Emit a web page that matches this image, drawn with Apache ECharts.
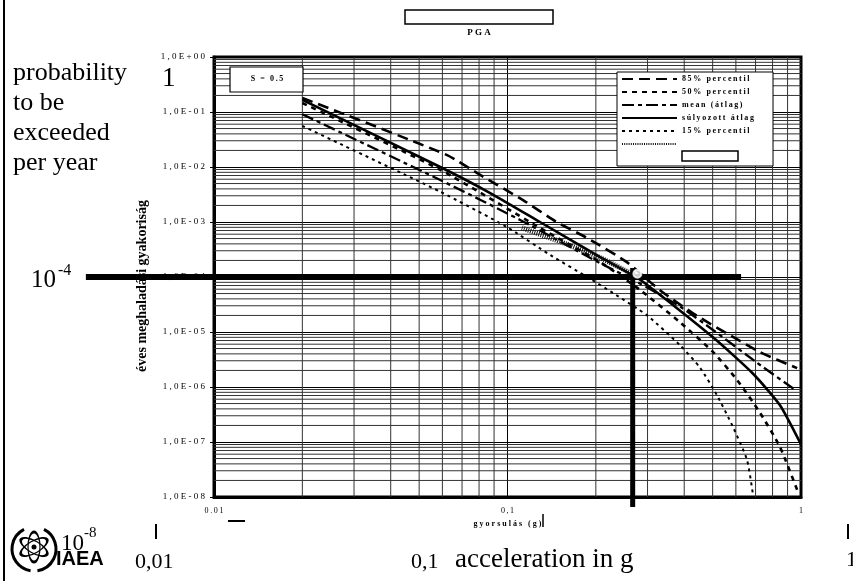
<!DOCTYPE html>
<html>
<head>
<meta charset="utf-8">
<script src="https://cdn.jsdelivr.net/npm/echarts@6/dist/echarts.min.js"></script>
<style>
  html, body { margin: 0; padding: 0; background: #fff; }
  #chart { width: 853px; height: 581px; }
</style>
</head>
<body>
<div id="chart"></div>
<script>
// görbék: gyorsulás (g) és éves meghaladási valószínűség
var p85_g = [0.02, 0.062, 0.081, 0.113, 0.147, 0.187, 0.255, 0.33, 0.44, 0.72, 0.97];
var p85_p = [0.18, 0.0166, 0.0071, 0.0025, 0.001, 5.1e-4, 1.86e-4, 5.8e-5, 2.0e-5, 4.4e-6, 2.2e-6];

var p50_g = [0.02, 0.059, 0.129, 0.207, 0.283, 0.387, 0.50, 0.605, 0.725, 0.848, 0.97];
var p50_p = [0.146, 0.0089, 7.8e-4, 1.86e-4, 5.8e-5, 1.5e-5, 4.4e-6, 1.35e-6, 3.4e-7, 8.1e-8, 1.35e-8];

var mean_g = [0.02, 0.059, 0.110, 0.207, 0.268, 0.313, 0.393, 0.50, 0.709, 0.954];
var mean_p = [0.091, 0.0058, 0.0011, 1.78e-4, 8.9e-5, 5.6e-5, 2.75e-5, 1.1e-5, 2.75e-6, 8.9e-7];

var wmean_g = [0.02, 0.059, 0.087, 0.129, 0.207, 0.283, 0.50, 0.684, 0.847, 1.0];
var wmean_p = [0.166, 0.01, 0.0034, 0.001, 2.29e-4, 8.9e-5, 8.1e-6, 1.78e-6, 4.7e-7, 9e-8];

var p15_g = [0.02, 0.059, 0.0995, 0.14, 0.187, 0.229, 0.299, 0.387, 0.453, 0.517, 0.587, 0.655, 0.686];
var p15_p = [0.0556, 0.00355, 8.1e-4, 2.5e-4, 1.0e-4, 5.1e-5, 2.0e-5, 5.75e-6, 2.24e-6, 7.1e-7, 1.86e-7, 4.7e-8, 1.1e-8];

var hatch_g = [0.112, 0.151, 0.207, 0.268];
var hatch_p = [7.8e-4, 4.4e-4, 2.24e-4, 1.1e-4];

// 10^-4 és 0,27 g jelölő vonalak: [g1, p1, g2, p2]
var refLines = [
  [0.00366, 1e-4, 0.625, 1e-4],
  [0.267, 1.45e-4, 0.267, 6.6e-9]
];
var refWidths = [6, 5];

var yTickLabels = ['1,0E+00', '1,0E-01', '1,0E-02', '1,0E-03', '1,0E-04', '1,0E-05', '1,0E-06', '1,0E-07', '1,0E-08'];
var xTickLabels = ['0.01', '0,1', '1'];

var names = ['85% percentil', '50% percentil', 'mean (átlag)', 'súlyozott átlag', '15% percentil', ' '];

// ritkított betűk, mint az eredetin
function spaced(s, sp) { return s.split('').join(sp || '\u2009'); }
function pairs(g, p) { return g.map(function (v, i) { return [v, p[i]]; }); }

// logaritmikus segédrács
var minorY = [], minorX = [];
for (var k = 1; k <= 8; k++) {
  for (var m = 2; m <= 9; m++) minorY.push([0.01, m * Math.pow(10, -k)]);
}
for (var k2 = -2; k2 <= -1; k2++) {
  for (var m2 = 2; m2 <= 9; m2++) minorX.push([m2 * Math.pow(10, k2), 1e-8]);
}

var serif = 'Liberation Serif, Times New Roman, serif';

var chart = echarts.init(document.getElementById('chart'));

function curve(name, g, p, lineStyle) {
  return {
    name: name,
    type: 'line',
    data: pairs(g, p),
    symbol: 'none',
    smooth: 0.2,
    z: 4,
    itemStyle: { color: '#000' },
    lineStyle: Object.assign({ color: '#000' }, lineStyle)
  };
}

// pixel a tengely sarkaiból (a tartományon kívül is)
function toPx(api, g, p) {
  var a = api.coord([0.01, 1]);
  var b = api.coord([1, 1e-8]);
  return [
    a[0] + (Math.log10(g) + 2) / 2 * (b[0] - a[0]),
    a[1] + (-Math.log10(p)) / 8 * (b[1] - a[1])
  ];
}

var option = {
  animation: false,
  backgroundColor: '#fff',
  grid: { left: 214, top: 57, right: 52, bottom: 84, show: true, borderColor: '#000', borderWidth: 3 },
  legend: {
    data: names,
    orient: 'vertical',
    left: 619,
    top: 73,
    itemWidth: 55,
    itemHeight: 10,
    itemGap: 5,
    padding: 2,
    z: 11,
    itemStyle: { opacity: 0 },
    textStyle: { fontFamily: serif, fontWeight: 'bold', fontSize: 8, color: '#000' },
    formatter: function (n) { return spaced(n); }
  },
  xAxis: {
    type: 'log',
    logBase: 10,
    min: 0.01,
    max: 1,
    name: spaced('gyorsulás (g)', '\u2005'),
    nameLocation: 'middle',
    nameGap: 19,
    nameTextStyle: { fontFamily: serif, fontWeight: 'bold', fontSize: 8, color: '#000' },
    axisLine: { lineStyle: { color: '#000', width: 3 } },
    axisTick: { show: false },
    axisLabel: {
      margin: 10,
      fontFamily: serif, fontSize: 8, color: '#000',
      formatter: function (v) { return spaced(xTickLabels[Math.round(Math.log10(v)) + 2] || ''); }
    },
    splitLine: { show: true, lineStyle: { color: '#000', width: 1 } }
  },
  yAxis: {
    type: 'log',
    logBase: 10,
    min: 1e-8,
    max: 1,
    name: 'éves meghaladási gyakoriság',
    nameLocation: 'middle',
    nameGap: 53,
    nameTextStyle: { fontFamily: serif, fontWeight: 'bold', fontSize: 14, color: '#000', padding: [0, 0, 0, -18] },
    axisLine: { lineStyle: { color: '#000', width: 3 } },
    axisTick: { show: true, length: 4, lineStyle: { color: '#000' } },
    axisLabel: {
      margin: 9,
      fontFamily: serif, fontSize: 9, color: '#000',
      formatter: function (v) { return spaced(yTickLabels[-Math.round(Math.log10(v))] || '', '\u2005'); }
    },
    splitLine: { show: true, lineStyle: { color: '#000', width: 1 } }
  },
  series: [
    {
      name: 'rács-y',
      type: 'custom',
      data: minorY,
      silent: true,
      z: 1,
      renderItem: function (params, api) {
        var v = api.value(1);
        var a = api.coord([0.01, v]);
        var b = api.coord([1, v]);
        return { type: 'line', shape: { x1: a[0], y1: a[1], x2: b[0], y2: b[1] }, style: { stroke: '#333', lineWidth: 1 } };
      }
    },
    {
      name: 'rács-x',
      type: 'custom',
      data: minorX,
      silent: true,
      z: 1,
      renderItem: function (params, api) {
        var v = api.value(0);
        var a = api.coord([v, 1]);
        var b = api.coord([v, 1e-8]);
        return { type: 'line', shape: { x1: a[0], y1: a[1], x2: b[0], y2: b[1] }, style: { stroke: '#333', lineWidth: 1 } };
      }
    },
    curve(names[0], p85_g, p85_p, { width: 2.6, type: [11, 6] }),
    curve(names[1], p50_g, p50_p, { width: 2.6, type: [5, 5] }),
    curve(names[2], mean_g, mean_p, { width: 2.3, type: [12, 4, 4, 4] }),
    curve(names[3], wmean_g, wmean_p, { width: 2.6, type: 'solid' }),
    curve(names[4], p15_g, p15_p, { width: 2, type: [3, 4] }),
    curve(names[5], hatch_g, hatch_p, { width: 5, type: [1, 1.2], color: '#111' }),
    {
      name: 'ref',
      type: 'custom',
      data: refLines,
      silent: true,
      z: 6,
      renderItem: function (params, api) {
        var a = toPx(api, api.value(0), api.value(1));
        var b = toPx(api, api.value(2), api.value(3));
        return { type: 'line', shape: { x1: a[0], y1: a[1], x2: b[0], y2: b[1] }, style: { stroke: '#000', lineWidth: refWidths[params.dataIndex] } };
      }
    },
    {
      name: 'metszés',
      type: 'scatter',
      data: [[0.277, 1.15e-4]],
      symbol: 'emptyCircle',
      symbolSize: 8,
      z: 7,
      itemStyle: { color: '#fff', borderColor: '#000', borderWidth: 2 }
    }
  ],
  graphic: [
    // bal oldali keret
    { type: 'line', shape: { x1: 4, y1: 0, x2: 4, y2: 581 }, style: { stroke: '#000', lineWidth: 2 }, z: 20 },
    // PGA cím
    { type: 'rect', shape: { x: 405, y: 10, width: 148, height: 14 }, style: { fill: '#fff', stroke: '#000', lineWidth: 1.5 }, z: 20 },
    { type: 'text', x: 479, y: 28, style: { text: spaced('PGA', '\u2005'), font: 'bold 9px ' + serif, fill: '#000', align: 'center' }, z: 20 },
    // S = 0.5
    { type: 'rect', shape: { x: 230, y: 67, width: 73, height: 25 }, style: { fill: '#fff', stroke: '#000', lineWidth: 1.2 }, z: 10 },
    { type: 'text', x: 267, y: 75, style: { text: spaced('S = 0.5'), font: 'bold 8px ' + serif, fill: '#000', align: 'center' }, z: 11 },
    // jelmagyarázat doboza
    { type: 'rect', shape: { x: 617, y: 72, width: 156, height: 94 }, style: { fill: '#fff', stroke: '#000', lineWidth: 1 }, z: 10 },
    { type: 'rect', shape: { x: 682, y: 151, width: 56, height: 10 }, style: { fill: '#fff', stroke: '#000', lineWidth: 1.5 }, z: 12 },
    // angol feliratok
    { type: 'text', x: 13, y: 58, style: { text: 'probability\nto be\nexceeded\nper year', font: '26px ' + serif, lineHeight: 30, fill: '#000' }, z: 20 },
    { type: 'text', x: 162, y: 65, style: { text: '1', font: '27px ' + serif, fill: '#000' }, z: 20 },
    { type: 'text', x: 31, y: 268, style: { text: '10', font: '25px ' + serif, fill: '#000' }, z: 20 },
    { type: 'text', x: 58, y: 263, style: { text: '-4', font: '16px ' + serif, fill: '#000' }, z: 20 },
    { type: 'text', x: 61, y: 532, style: { text: '10', font: '23px ' + serif, fill: '#000' }, z: 20 },
    { type: 'text', x: 84, y: 526, style: { text: '-8', font: '15px ' + serif, fill: '#000' }, z: 20 },
    { type: 'text', x: 135, y: 551, style: { text: '0,01', font: '22px ' + serif, fill: '#000' }, z: 20 },
    { type: 'text', x: 411, y: 551, style: { text: '0,1', font: '22px ' + serif, fill: '#000' }, z: 20 },
    { type: 'text', x: 455, y: 546, style: { text: 'acceleration in g', font: '27px ' + serif, fill: '#000' }, z: 20 },
    { type: 'text', x: 846, y: 549, style: { text: '1', font: '22px ' + serif, fill: '#000' }, z: 20 },
    { type: 'line', shape: { x1: 156, y1: 524, x2: 156, y2: 539 }, style: { stroke: '#000', lineWidth: 2 }, z: 20 },
    { type: 'line', shape: { x1: 848, y1: 524, x2: 848, y2: 539 }, style: { stroke: '#000', lineWidth: 2 }, z: 20 },
    { type: 'line', shape: { x1: 543, y1: 514, x2: 543, y2: 527 }, style: { stroke: '#000', lineWidth: 1.5 }, z: 20 },
    { type: 'line', shape: { x1: 228, y1: 521, x2: 245, y2: 521 }, style: { stroke: '#000', lineWidth: 2 }, z: 20 },
    // IAEA logó
    { type: 'arc', shape: { cx: 34, cy: 549, r: 22, startAngle: Math.PI * 0.55, endAngle: Math.PI * 1.35 }, style: { stroke: '#000', lineWidth: 3, fill: null }, z: 20 },
    { type: 'arc', shape: { cx: 34, cy: 549, r: 22, startAngle: -Math.PI * 0.35, endAngle: Math.PI * 0.45 }, style: { stroke: '#000', lineWidth: 3, fill: null }, z: 20 },
    { type: 'circle', shape: { cx: 0, cy: 0, r: 15 }, x: 34, y: 547, scaleX: 0.4, rotation: 0, style: { stroke: '#000', lineWidth: 3, fill: null }, z: 20 },
    { type: 'circle', shape: { cx: 0, cy: 0, r: 15 }, x: 34, y: 547, scaleX: 0.4, rotation: Math.PI / 3, style: { stroke: '#000', lineWidth: 3, fill: null }, z: 20 },
    { type: 'circle', shape: { cx: 0, cy: 0, r: 15 }, x: 34, y: 547, scaleX: 0.4, rotation: -Math.PI / 3, style: { stroke: '#000', lineWidth: 3, fill: null }, z: 20 },
    { type: 'circle', shape: { cx: 34, cy: 547, r: 2.5 }, style: { fill: '#000' }, z: 20 },
    { type: 'text', x: 56, y: 549, style: { text: 'IAEA', font: 'bold 20px Liberation Sans, Arial, sans-serif', fill: '#000' }, z: 19 }
  ]
};

chart.setOption(option);
</script>
</body>
</html>
